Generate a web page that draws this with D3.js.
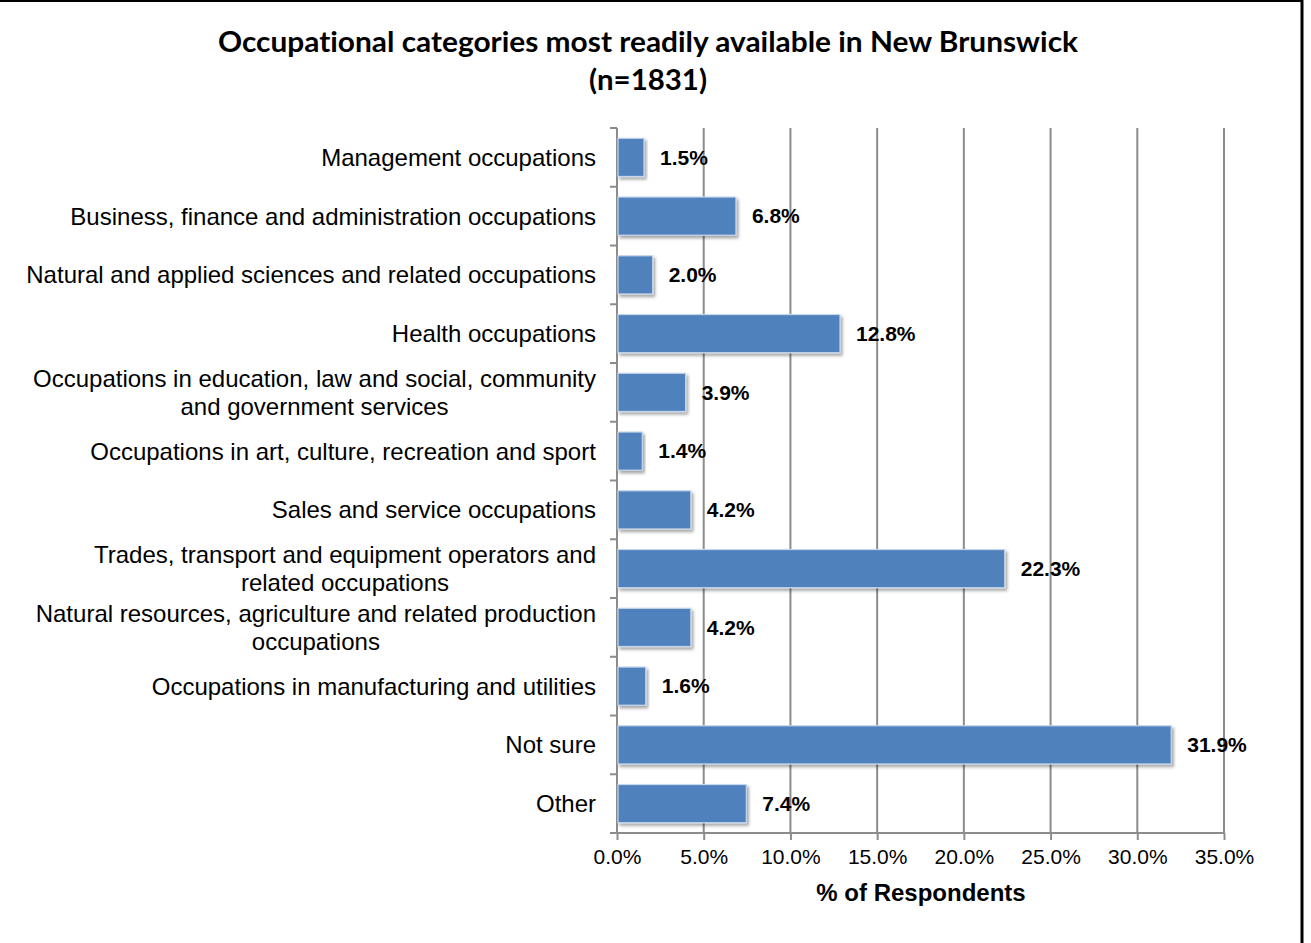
<!DOCTYPE html>
<html>
<head>
<meta charset="utf-8">
<script src="https://cdn.jsdelivr.net/npm/d3@7"></script>
<style>
html,body{margin:0;padding:0;background:#fff;}
svg{display:block;}
</style>
</head>
<body>
<svg id="chart" width="1311" height="943"></svg>
<script>
const categories = [
  "Management occupations",
  "Business, finance and administration occupations",
  "Natural and applied sciences and related occupations",
  "Health occupations",
  "Occupations in education, law and social, community\nand government services",
  "Occupations in art, culture, recreation and sport",
  "Sales and service occupations",
  "Trades, transport and equipment operators and\nrelated occupations",
  "Natural resources, agriculture and related production\noccupations",
  "Occupations in manufacturing and utilities",
  "Not sure",
  "Other"
];
const values = [1.5, 6.8, 2.0, 12.8, 3.9, 1.4, 4.2, 22.3, 4.2, 1.6, 31.9, 7.4];
const tickValues = [0, 5, 10, 15, 20, 25, 30, 35];
const titleLines = ["Occupational categories most readily available in New Brunswick", "(n=1831)"];
const axisTitle = "% of Respondents";

const svg = d3.select("#chart");
const pLeft = 617, pRight = 1224, pTop = 128, pBottom = 833;

const x = d3.scaleLinear().domain([0, 35]).range([pLeft, pRight]);
const y = d3.scaleBand().domain(categories).range([pTop, pBottom]).paddingInner(0.35).paddingOuter(0.175);

// frame (top and right borders)
svg.append("line").attr("x1", 0).attr("x2", 1303).attr("y1", 1).attr("y2", 1).attr("stroke", "#000").attr("stroke-width", 2);
svg.append("line").attr("x1", 1302).attr("x2", 1302).attr("y1", 0).attr("y2", 943).attr("stroke", "#000").attr("stroke-width", 3);

// shadow filter
const defs = svg.append("defs");
const f = defs.append("filter").attr("id", "shadow").attr("x", "-5%").attr("y", "-20%").attr("width", "120%").attr("height", "160%");
f.append("feDropShadow").attr("dx", 2).attr("dy", 2.5).attr("stdDeviation", 1.8).attr("flood-color", "#000").attr("flood-opacity", 0.35);

// title
const title = svg.append("text").attr("text-anchor", "middle")
  .style("font-family", "Lato, 'Open Sans', sans-serif").style("font-weight", "bold").style("font-size", "28px")
  .style("font-variant-ligatures", "none").attr("fill", "#000");
title.append("tspan").attr("x", 648).attr("y", 52).attr("textLength", 860).attr("lengthAdjust", "spacingAndGlyphs").text(titleLines[0]);
title.append("tspan").attr("x", 648).attr("y", 90).attr("textLength", 118).attr("lengthAdjust", "spacingAndGlyphs").text(titleLines[1]);

// gridlines
svg.append("g").selectAll("line").data(tickValues.slice(1)).join("line")
  .attr("x1", d => x(d)).attr("x2", d => x(d)).attr("y1", pTop).attr("y2", pBottom)
  .attr("stroke", "#8c8c8c").attr("stroke-width", 2);

// x axis
const xAxis = d3.axisBottom(x).tickValues(tickValues).tickFormat(d => d.toFixed(1) + "%").tickSize(7).tickPadding(9);
const gx = svg.append("g").attr("transform", `translate(0,${pBottom})`).call(xAxis);
gx.select(".domain").attr("stroke", "#8c8c8c").attr("stroke-width", 2).attr("d", `M${pLeft - 7},0H${pRight}`);
gx.selectAll(".tick line").attr("stroke", "#8c8c8c").attr("stroke-width", 2);
gx.selectAll(".tick text").style("font-family", "'Liberation Sans', Arial, sans-serif").style("font-size", "21px").attr("fill", "#000");

// y axis line and ticks at band boundaries
const boundaries = d3.range(categories.length + 1).map(i => pTop + i * (pBottom - pTop) / categories.length);
svg.append("line").attr("x1", pLeft).attr("x2", pLeft).attr("y1", pTop).attr("y2", pBottom).attr("stroke", "#8c8c8c").attr("stroke-width", 2);
svg.append("g").selectAll("line").data(boundaries).join("line")
  .attr("x1", pLeft - 7).attr("x2", pLeft).attr("y1", d => d).attr("y2", d => d)
  .attr("stroke", "#8c8c8c").attr("stroke-width", 2);

// category labels
const lab = svg.append("g").style("font-family", "'Liberation Sans', Arial, sans-serif").style("font-size", "24px").attr("fill", "#000");
categories.forEach(c => {
  const lines = c.split("\n");
  const cy = y(c) + y.bandwidth() / 2;
  const lh = 28;
  const t = lab.append("text").attr("text-anchor", "middle");
  lines.forEach((ln, i) => {
    t.append("tspan").attr("x", 0).attr("y", cy + (i - (lines.length - 1) / 2) * lh).attr("dy", "0.35em").text(ln);
  });
});
lab.selectAll("text").each(function() {
  const bb = this.getBBox();
  const cx = 596 - bb.width / 2;
  d3.select(this).selectAll("tspan").attr("x", cx);
});

// bars
svg.append("g").selectAll("rect").data(values).join("rect")
  .attr("x", x(0) + 1).attr("y", (d, i) => y(categories[i]))
  .attr("width", d => x(d) - x(0)).attr("height", y.bandwidth())
  .attr("fill", "#4F81BD").attr("stroke", "#C6D6EA").attr("stroke-width", 1.2)
  .attr("filter", "url(#shadow)");

// value labels
svg.append("g").selectAll("text").data(values).join("text")
  .attr("x", d => x(d) + 17).attr("y", (d, i) => y(categories[i]) + y.bandwidth() / 2).attr("dy", "0.35em")
  .style("font-family", "'Liberation Sans', Arial, sans-serif").style("font-weight", "bold").style("font-size", "21px")
  .attr("fill", "#000").text(d => d.toFixed(1) + "%");

// axis title
svg.append("text").attr("x", 921).attr("y", 901).attr("text-anchor", "middle")
  .style("font-family", "'Liberation Sans', Arial, sans-serif").style("font-weight", "bold").style("font-size", "24px")
  .text(axisTitle);
</script>
</body>
</html>
